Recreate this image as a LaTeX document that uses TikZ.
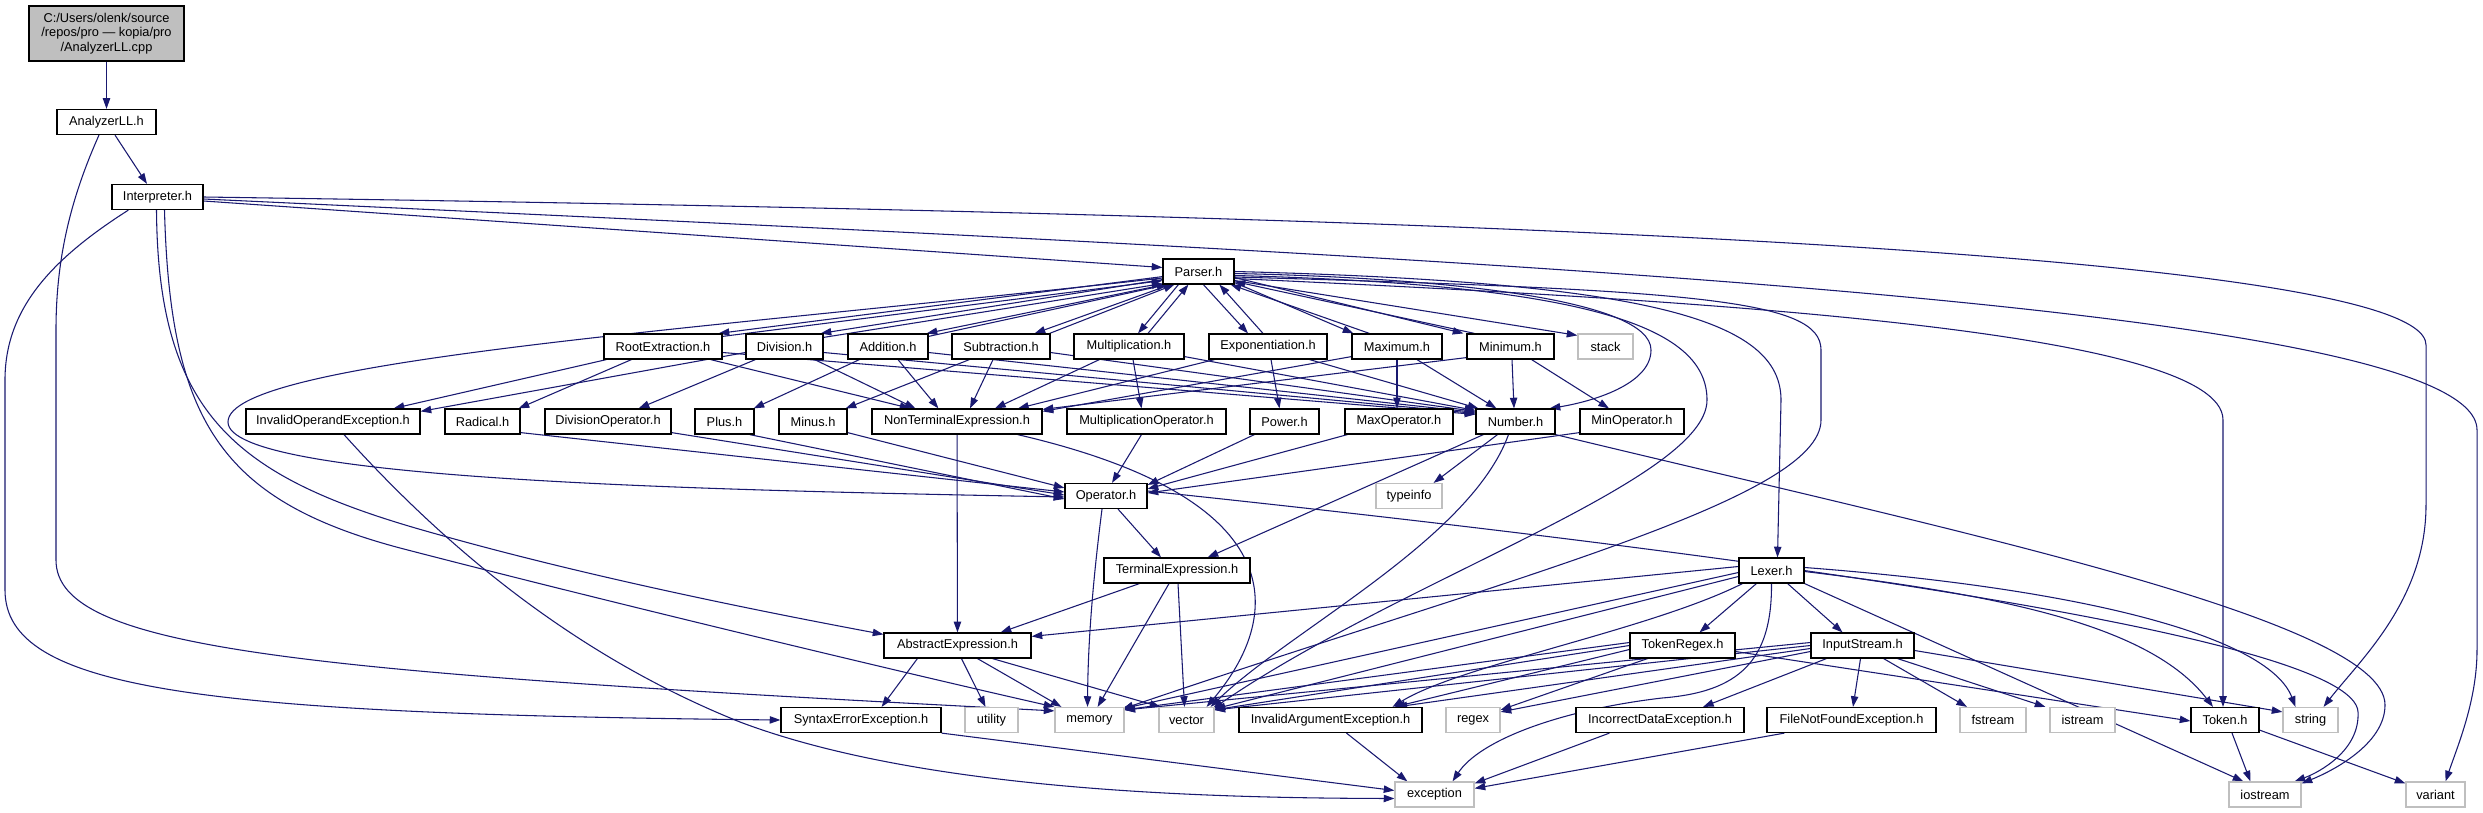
\documentclass[tikz,border=0pt]{standalone}
\usepackage{fontspec}
\setmainfont{Liberation Sans}
\usetikzlibrary{arrows.meta,calc}
\definecolor{edgec}{RGB}{25,25,112}
\definecolor{sysg}{RGB}{191,191,191}
\pgfdeclarelayer{bg}
\pgfsetlayers{bg,main}
\tikzset{
  hb/.style={draw=black, fill=white, line width=0.9pt, minimum height=18.75pt, inner sep=0pt, font=\fontsize{9.6}{11}\selectfont},
  sb/.style={draw=sysg, fill=white, line width=0.9pt, minimum height=18.75pt, inner sep=0pt, font=\fontsize{9.6}{11}\selectfont},
  ed/.style={draw=edgec, line width=0.8pt, -{Triangle[length=8pt,width=5.5pt]}}
}
\newcommand\hdr[5]{\node[hb,minimum width=#4*0.75pt] (#1) at (#2,#3) {#5};}
\newcommand\sys[5]{\node[sb,minimum width=#4*0.75pt] (#1) at (#2,#3) {#5};}
\begin{document}
\begin{tikzpicture}[x=0.75pt,y=-0.75pt]
\useasboundingbox (0,0) rectangle (2483,813);
% ---------- nodes ----------
\node[hb, fill=sysg, minimum width=155*0.75pt, minimum height=41.25pt, align=center] (cpp) at (106.5,33.5) {C:/Users/olenk/source\\/repos/pro — kopia/pro\\/AnalyzerLL.cpp};
\hdr{anl}{106.5}{122}{99}{AnalyzerLL.h}
\hdr{intp}{157.5}{197}{91}{Interpreter.h}
\hdr{par}{1198.5}{271.5}{71}{Parser.h}
% row 4
\hdr{re}{663}{346.5}{118}{RootExtraction.h}
\hdr{div}{784.5}{346.5}{77}{Division.h}
\hdr{add}{888}{346.5}{80}{Addition.h}
\hdr{sub}{1001}{346.5}{98}{Subtraction.h}
\hdr{mul}{1129}{346.5}{110}{Multiplication.h}
\hdr{expo}{1268}{346.5}{118}{Exponentiation.h}
\hdr{maxh}{1397}{346.5}{90}{Maximum.h}
\hdr{minh}{1510.5}{346.5}{87}{Minimum.h}
\sys{stk}{1605.5}{346.5}{55}{stack}
% row 5
\hdr{ioe}{333}{421.5}{174}{InvalidOperandException.h}
\hdr{rad}{482.5}{421.5}{75}{Radical.h}
\hdr{dop}{608}{421.5}{126}{DivisionOperator.h}
\hdr{plus}{724.5}{421.5}{59}{Plus.h}
\hdr{minus}{813}{421.5}{68}{Minus.h}
\hdr{nt}{957}{421.5}{170}{NonTerminalExpression.h}
\hdr{mop}{1146.5}{421.5}{159}{MultiplicationOperator.h}
\hdr{pow}{1284.5}{421.5}{69}{Power.h}
\hdr{maxop}{1399}{421.5}{108}{MaxOperator.h}
\hdr{num}{1515.5}{421.5}{79}{Number.h}
\hdr{minop}{1632}{421.5}{104}{MinOperator.h}
% row 6
\hdr{op}{1106}{496}{82}{Operator.h}
\sys{ti}{1409}{496}{66}{typeinfo}
% row 7
\hdr{te}{1177}{570.5}{146}{TerminalExpression.h}
\hdr{lex}{1771.5}{570.5}{65}{Lexer.h}
% row 8
\hdr{ae}{957.5}{645.5}{147}{AbstractExpression.h}
\hdr{tr}{1682.5}{645.5}{105}{TokenRegex.h}
\hdr{is}{1862.5}{645.5}{103}{InputStream.h}
% row 9
\hdr{se}{861}{720}{160}{SyntaxErrorException.h}
\sys{util}{991.5}{720}{53}{utility}
\sys{mem}{1089.5}{720}{69}{memory}
\sys{vec}{1186.5}{720}{55}{vector}
\hdr{inva}{1330.5}{720}{183}{InvalidArgumentException.h}
\sys{rgx}{1473}{720}{54}{regex}
\hdr{ide}{1660}{720}{168}{IncorrectDataException.h}
\hdr{fnf}{1851.5}{720}{169}{FileNotFoundException.h}
\sys{fst}{1993}{720}{66}{fstream}
\sys{ist}{2082.5}{720}{65}{istream}
\hdr{tok}{2225}{720}{68}{Token.h}
\sys{str}{2310.5}{720}{55}{string}
% row 10
\sys{exc}{1434.5}{794.5}{79}{exception}
\sys{ios}{2265}{794.5}{72}{iostream}
\sys{var}{2435.5}{794.5}{59}{variant}
% ---------- edges ----------
\begin{pgfonlayer}{bg}
\fill[white] (0,0) rectangle (2483,813);
\draw[ed] (cpp) -- (anl);
\draw[ed] ($(anl.south)+(8.5,0)$) -- ($(intp.north)+(-10.5,0)$);
\draw[ed] ($(anl.south)+(-7.5,0)$) .. controls (70,200) and (56,260) .. (56,330) -- (56,560) .. controls (56,650) and (300,672) .. ($(mem.north west)+(0,4)$);
\draw[ed] ($(intp.south west)+(17,0)$) .. controls (50,260) and (5,310) .. (5,380) -- (5,590) .. controls (5,690) and (200,714) .. (se.west);
\draw[ed] ($(intp.south)+(-1,0)$) .. controls (158,420) and (240,480) .. (440,535) .. controls (600,580) and (780,615) .. ($(ae.north west)+(0,2)$);
\draw[ed] ($(intp.south)+(7,0)$) .. controls (170,420) and (220,500) .. (400,548) .. controls (600,600) and (900,672) .. (mem.north west);
\draw[ed] ($(intp.east)+(0,4)$) -- ($(par.west)+(0,-4)$);
\draw[ed] (intp.east) .. controls (1300,213) and (2426,245) .. (2426,345) -- (2426,505) .. controls (2426,600) and (2360,660) .. ($(str.north)+(13,0)$);
\draw[ed] ($(intp.east)+(0,2)$) .. controls (1400,255) and (2477,300) .. (2477,430) -- (2477,650) .. controls (2477,700) and (2458,745) .. ($(var.north)+(10,0)$);
% Parser loop to Operator
\draw[ed] ($(par.west)+(0,6.5)$) .. controls (700,330) and (228,360) .. (228,422) .. controls (228,480) and (700,490) .. ($(op.west)+(0,1)$);
% Parser <-> operations
\draw[ed] ($(par.south west)+(0,-8)$) -- ($(re.north east)+(-4,0)$);
\draw[ed] ($(re.north east)+(0,3)$) -- ($(par.south west)+(0,-4)$);
\draw[ed] ($(par.south west)+(0,-5)$) -- ($(div.north east)+(-3,0)$);
\draw[ed] ($(div.north east)+(0,4)$) -- ($(par.south west)+(0,-1)$);
\draw[ed] ($(par.south west)+(2,0)$) -- ($(add.north east)+(-2,0)$);
\draw[ed] ($(add.north east)+(0,3)$) -- ($(par.south west)+(5,0)$);
\draw[ed] ($(par.south west)+(8,0)$) -- ($(sub.north east)+(-16,0)$);
\draw[ed] ($(sub.north east)+(-1,0)$) -- ($(par.south west)+(12,0)$);
\draw[ed] ($(par.south west)+(16,0)$) -- ($(mul.north)+(9,0)$);
\draw[ed] ($(mul.north)+(19,0)$) -- ($(par.south west)+(26,0)$);
\draw[ed] ($(par.south west)+(41,0)$) -- ($(expo.north)+(-20,0)$);
\draw[ed] ($(expo.north)+(-5,0)$) -- ($(par.south west)+(57,0)$);
\draw[ed] ($(par.south east)+(0,-2)$) -- ($(maxh.north west)+(2,0)$);
\draw[ed] ($(maxh.north west)+(18,0)$) -- ($(par.south east)+(-4,0)$);
\draw[ed] ($(par.east)+(0,6)$) -- ($(minh.north west)+(-3,0)$);
\draw[ed] ($(minh.north west)+(8,0)$) -- ($(par.east)+(0,10)$);
% Parser -> others
\draw[ed] ($(par.east)+(0,9)$) -- ($(stk.north west)+(0,2)$);
\draw[ed] ($(par.east)+(0,2)$) .. controls (1450,278) and (1651,300) .. (1651,350) .. controls (1651,385) and (1590,402) .. ($(num.north east)+(-6,0)$);
\draw[ed] ($(par.east)+(0,4)$) .. controls (1600,285) and (1707,330) .. (1707,400) .. controls (1707,480) and (1400,580) .. ($(vec.north east)+(-2,2)$);
\draw[ed] (par.east) .. controls (1650,282) and (1781,320) .. (1781,400) -- ($(lex.north)+(6,0)$);
\draw[ed] ($(par.east)+(0,5.5)$) .. controls (1700,290) and (1821,300) .. (1821,350) -- (1821,420) .. controls (1821,500) and (1500,580) .. ($(mem.north east)+(-2,2)$);
\draw[ed] ($(par.east)+(0,7)$) .. controls (1700,300) and (2223,330) .. (2223,420) -- ($(tok.north)+(-2,0)$);
% RootExtraction
\draw[ed] ($(re.south west)+(3,0)$) -- ($(ioe.north east)+(-27,0)$);
\draw[ed] ($(re.south west)+(28,0)$) -- ($(rad.north east)+(-2,0)$);
\draw[ed] ($(re.south east)+(-12,0)$) -- ($(nt.north west)+(39,0)$);
\draw[ed] ($(re.east)+(0,6)$) -- ($(num.north west)+(0,6)$);
% Division
\draw[ed] ($(div.west)+(0,6)$) -- ($(ioe.north east)+(0,3)$);
\draw[ed] ($(div.south west)+(10,0)$) -- ($(dop.north east)+(-33,0)$);
\draw[ed] ($(div.south east)+(-9,0)$) -- ($(nt.north west)+(44,0)$);
\draw[ed] ($(div.east)+(0,6)$) -- ($(num.north west)+(0,5)$);
% Addition
\draw[ed] ($(add.south west)+(12,0)$) -- ($(plus.north east)+(-1,0)$);
\draw[ed] ($(add.south)+(10,0)$) -- ($(nt.north west)+(67,0)$);
\draw[ed] ($(add.east)+(0,6)$) -- ($(num.north west)+(0,4)$);
% Subtraction
\draw[ed] ($(sub.south west)+(18,0)$) -- ($(minus.north east)+(-2,0)$);
\draw[ed] ($(sub.south)+(-8,0)$) -- ($(nt.north)+(13,0)$);
\draw[ed] ($(sub.east)+(0,6)$) -- ($(num.north west)+(0,3)$);
% Multiplication
\draw[ed] ($(mul.south west)+(26,0)$) -- ($(nt.north)+(38,0)$);
\draw[ed] ($(mul.south)+(4,0)$) -- ($(mop.north)+(-5,0)$);
\draw[ed] ($(mul.south east)+(0,-3)$) -- ($(num.north west)+(0,2)$);
% Exponentiation
\draw[ed] ($(expo.south west)+(6,0)$) -- ($(nt.north)+(61,0)$);
\draw[ed] ($(expo.south)+(3,0)$) -- ($(pow.north)+(-5,0)$);
\draw[ed] ($(expo.south east)+(-18,0)$) -- ($(num.north west)+(3,0)$);
% Maximum
\draw[ed] ($(maxh.south west)+(0,-3)$) -- ($(nt.north east)+(0,3)$);
\draw[ed] (maxh.south) -- ($(maxop.north)+(-2,0)$);
\draw[ed] ($(maxh.south)+(20,0)$) -- ($(num.north west)+(21,0)$);
% Minimum
\draw[ed] ($(minh.south west)+(0,-2)$) -- ($(nt.north east)+(0,1)$);
\draw[ed] ($(minh.south)+(1.5,0)$) -- ($(num.north)+(-1.5,0)$);
\draw[ed] ($(minh.south east)+(-23,0)$) -- ($(minop.north)+(-23,0)$);
% operators -> Operator.h
\draw[ed] ($(rad.south east)+(0,-2)$) -- ($(op.west)+(0,-4)$);
\draw[ed] ($(dop.south east)+(0,-2)$) -- ($(op.west)+(0,-1)$);
\draw[ed] ($(plus.south east)+(-5,0)$) -- ($(op.west)+(0,3)$);
\draw[ed] ($(minus.south east)+(0,-2)$) -- ($(op.north west)+(0,5)$);
\draw[ed] ($(mop.south)+(-5,0)$) -- ($(op.north)+(6,0)$);
\draw[ed] ($(pow.south west)+(5,0)$) -- ($(op.north east)+(0,2)$);
\draw[ed] ($(maxop.south west)+(3,0)$) -- ($(op.north east)+(0,6)$);
\draw[ed] ($(minop.south west)+(0,-2)$) -- ($(op.east)+(0,-3)$);
% NonTerminalExpression
\draw[ed] (nt) -- (ae);
\draw[ed] ($(nt.south east)+(-25,0)$) .. controls (1300,500) and (1280,620) .. ($(vec.north east)+(-8,0)$);
% Number
\draw[ed] ($(num.south west)+(8,0)$) -- ($(te.north east)+(-43,0)$);
\draw[ed] ($(num.south)+(-18,0)$) -- ($(ti.north east)+(-9,0)$);
\draw[ed] ($(num.south)+(-7,0)$) .. controls (1470,540) and (1290,630) .. ($(vec.north east)+(-4,0)$);
\draw[ed] (num.south east) .. controls (1950,530) and (2385,620) .. (2385,705) .. controls (2385,745) and (2330,772) .. ($(ios.north east)+(0,2)$);
% Operator
\draw[ed] ($(op.south)+(12,0)$) -- ($(te.north)+(-16,0)$);
\draw[ed] ($(op.south)+(-4,0)$) .. controls (1093,580) and (1088,640) .. ($(mem.north)+(-2,0)$);
\draw[ed] ($(op.east)+(0,-5)$) .. controls (1800,560) and (2355,640) .. (2358,712) .. controls (2360,750) and (2320,772) .. ($(ios.north east)+(-7,0)$);
% TerminalExpression
\draw[ed] ($(te.south west)+(36,0)$) -- ($(ae.north east)+(-31,0)$);
\draw[ed] ($(te.south)+(-8,0)$) -- ($(mem.north east)+(-27,0)$);
\draw[ed] ($(te.south)+(1,0)$) -- ($(vec.north)+(-2,0)$);
% AbstractExpression
\draw[ed] ($(ae.south west)+(34,0)$) -- ($(se.north east)+(-60,0)$);
\draw[ed] ($(ae.south)+(4,0)$) -- ($(util.north)+(-6,0)$);
\draw[ed] ($(ae.south)+(20,0)$) -- ($(mem.north west)+(7,0)$);
\draw[ed] ($(ae.south)+(35,0)$) -- ($(vec.north west)+(2,0)$);
% Lexer
\draw[ed] ($(lex.west)+(0,-4)$) -- ($(ae.north east)+(0,4)$);
\draw[ed] ($(lex.west)+(0,2)$) -- ($(mem.north east)+(-3,2)$);
\draw[ed] ($(lex.west)+(0,6)$) -- ($(vec.north east)+(0,2)$);
\draw[ed] ($(lex.south west)+(4,0)$) .. controls (1650,630) and (1460,665) .. ($(inva.north)+(62,0)$);
\draw[ed] (lex.south) .. controls (1772,660) and (1740,692) .. (1662,698) .. controls (1560,710) and (1480,740) .. ($(exc.north)+(18,0)$);
\draw[ed] ($(lex.south west)+(18,0)$) -- ($(tr.north)+(17,0)$);
\draw[ed] ($(lex.south east)+(-17,0)$) -- ($(is.north)+(-20,0)$);
\draw[ed] ($(lex.east)+(0,-3)$) .. controls (2100,590) and (2270,640) .. ($(str.north)+(-15,0)$);
\draw[ed] ($(lex.east)+(0,1)$) .. controls (2000,595) and (2150,625) .. ($(tok.north)+(-12,0)$);
\draw[ed] (lex.south east) -- ($(ios.north west)+(15,0)$);
% TokenRegex
\draw[ed] ($(tr.west)+(0,-3)$) -- ($(mem.north east)+(-1,3)$);
\draw[ed] (tr.west) -- ($(vec.north east)+(-1,3)$);
\draw[ed] ($(tr.west)+(0,4)$) -- ($(inva.north)+(64,0)$);
\draw[ed] ($(tr.south west)+(18,0)$) -- ($(rgx.north east)+(0,3)$);
\draw[ed] ($(tr.east)+(0,6)$) -- ($(tok.west)+(0,1)$);
% InputStream
\draw[ed] ($(is.west)+(0,-3)$) -- ($(mem.north east)+(0,3)$);
\draw[ed] (is.west) -- ($(vec.north east)+(0,3)$);
\draw[ed] ($(is.west)+(0,3)$) -- ($(inva.north)+(66,0)$);
\draw[ed] ($(is.west)+(0,6)$) -- ($(rgx.north east)+(0,5)$);
\draw[ed] ($(is.south west)+(16,0)$) -- ($(ide.north)+(43,0)$);
\draw[ed] ($(is.south)+(-2,0)$) -- ($(fnf.north)+(1.5,0)$);
\draw[ed] ($(is.south east)+(-31,0)$) -- ($(fst.north)+(-26,0)$);
\draw[ed] ($(is.south east)+(-17,0)$) -- ($(ist.north west)+(-4,0)$);
\draw[ed] ($(is.east)+(0,5)$) -- ($(str.north west)+(0,5)$);
% Token
\draw[ed] ($(tok.south)+(7,0)$) -- ($(ios.north west)+(22,0)$);
\draw[ed] ($(tok.south east)+(0,-3)$) -- ($(var.north west)+(0,2)$);
% exceptions
\draw[ed] ($(ioe.south)+(11,0)$) .. controls (430,530) and (560,650) .. (740,722) .. controls (920,790) and (1200,798) .. ($(exc.west)+(0,4)$);
\draw[ed] (se.south east) -- ($(exc.west)+(0,-4)$);
\draw[ed] ($(inva.south)+(16,0)$) -- ($(exc.north west)+(13,0)$);
\draw[ed] ($(ide.south west)+(34,0)$) -- ($(exc.north east)+(0,2)$);
\draw[ed] ($(fnf.south west)+(18,0)$) -- ($(exc.north east)+(0,7)$);
\end{pgfonlayer}
\end{tikzpicture}
\end{document}
